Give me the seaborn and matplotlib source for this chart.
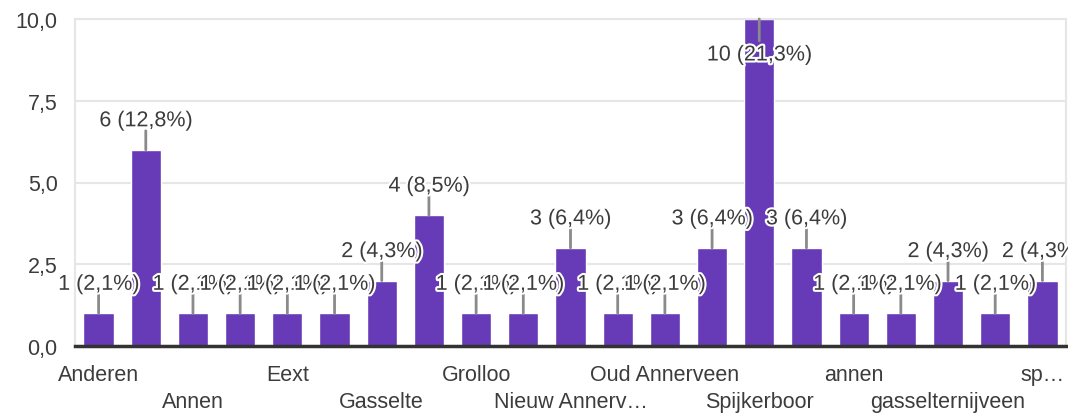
import matplotlib
matplotlib.use("Agg")
import matplotlib.pyplot as plt
import matplotlib.patheffects as pe
import seaborn as sns
import pandas as pd

# aantallen per woonplaats (47 antwoorden)
values = [1, 6, 1, 1, 1, 1, 2, 4, 1, 1, 3, 1, 1, 3, 10, 3, 1, 1, 2, 1, 2]
# alleen om de andere categorie staat een label in beeld
tick_labels = ['Anderen', '', 'Annen', '', 'Eext', '', 'Gasselte', '', 'Grolloo', '',
               'Nieuw Annerv…', '', 'Oud Annerveen', '', 'Spijkerboor', '', 'annen', '',
               'gasselternijveen', '', 'sp…']
y_ticks = [0, 2.5, 5, 7.5, 10]
y_tick_labels = ['0,0', '2,5', '5,0', '7,5', '10,0']

total = sum(values)
df = pd.DataFrame({'pos': [str(i) for i in range(len(values))], 'count': values})

sns.set_style('white')
plt.rcParams['font.family'] = ['Liberation Sans', 'DejaVu Sans']

fig = plt.figure(figsize=(10.68, 4.14), dpi=100)
ax = fig.add_axes([75 / 1068, 1 - 347 / 414, (1066 - 75) / 1068, (347 - 20) / 414])

sns.barplot(data=df, x='pos', y='count', color='#673ab7', saturation=1, width=0.64, ax=ax)

ax.set_ylim(0, 10)
ax.set_xlim(-0.5, len(values) - 0.5)
ax.set_yticks(y_ticks)
ax.set_yticklabels(y_tick_labels)
ax.yaxis.grid(True, color='#e6e6e6', lw=1.5)
ax.set_axisbelow(True)
ax.set_xlabel('')
ax.set_ylabel('')

# twee rijen labels op de x-as
xt = [t if i % 4 == 0 else '\n' + t for i, t in enumerate(tick_labels)]
ax.set_xticks(range(len(values)))
ax.set_xticklabels(xt, linespacing=1.36)
ax.tick_params(axis='both', length=0, labelsize=15.5, colors='#3c3c3c')
ax.tick_params(axis='y', pad=12.5)
ax.tick_params(axis='x', pad=13)

for side in ['left', 'right', 'top']:
    ax.spines[side].set_color('#e6e6e6')
    ax.spines[side].set_linewidth(1.5)
ax.spines['bottom'].set_color('#333333')
ax.spines['bottom'].set_linewidth(2.5)

halo = [pe.withStroke(linewidth=3, foreground='white')]
for i, v in enumerate(values):
    pct = f"{v / total * 100:.1f}".replace('.', ',')
    label = f"{v} ({pct}%)"
    up = v < 10
    ax.annotate('', xy=(i, v), xytext=(0, 19 if up else -22), textcoords='offset pixels',
                arrowprops=dict(arrowstyle='-', color='#8a8a8a', lw=2, shrinkA=0, shrinkB=0))
    ax.annotate(label, xy=(i, v), xytext=(0, 29 if up else -36), textcoords='offset pixels',
                ha='center', va='center', fontsize=15.5, color='#3c3c3c',
                path_effects=halo, annotation_clip=False)

fig.savefig('out.png', dpi=100)
